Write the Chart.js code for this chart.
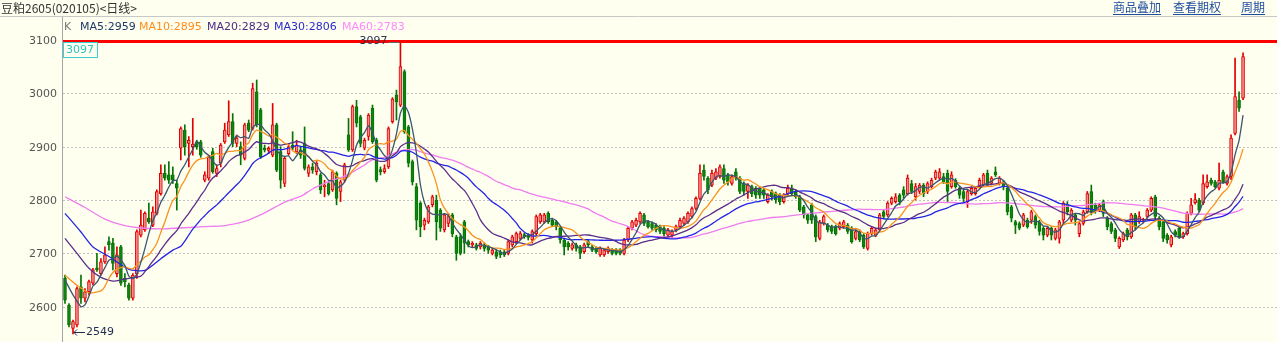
<!DOCTYPE html>
<html>
<head>
<meta charset="utf-8">
<script src="https://cdn.jsdelivr.net/npm/chart.js@4.4.1/dist/chart.umd.min.js"></script>
<style>
  html, body { margin: 0; padding: 0; background: #FFFFF0; }
  canvas { display: block; }
</style>
</head>
<body>
<canvas id="kline" width="1277" height="342"></canvas>
<script>
// daily candles (oldest first)
const opens = [
  2653,2603,2559,2566,2637,2616,2628,2644,2673,2662,
  2684,2722,2719,2662,2712,2653,2641,2616,2662,2734,
  2744,2766,2753,2775,2812,2850,2847,2847,2831,2897,
  2931,2906,2900,2909,2909,2837,2841,2891,2850,2869,
  2909,2922,2947,2906,2900,2878,2944,2934,3003,2969,
  2897,2893,2884,2941,2891,2831,2887,2903,2890,2894,
  2906,2850,2862,2853,2847,2825,2831,2819,2850,2816,
  2837,2922,2894,2975,2956,2897,2919,2972,2912,2857,
  2853,2862,2947,2997,2978,3041,2937,2872,2825,2794,
  2753,2759,2791,2800,2781,2744,2756,2772,2731,2731,
  2759,2722,2716,2716,2712,2716,2712,2700,2703,2703,
  2703,2700,2716,2722,2728,2735,2734,2725,2737,2759,
  2759,2775,2762,2759,2747,2725,2719,2709,2716,2712,
  2703,2722,2712,2709,2697,2697,2703,2706,2706,2706,
  2700,2725,2747,2753,2759,2772,2759,2756,2753,2750,
  2747,2734,2734,2744,2750,2756,2759,2769,2784,2803,
  2856,2841,2828,2841,2844,2859,2847,2831,2853,2841,
  2831,2816,2825,2822,2822,2819,2797,2816,2812,2809,
  2797,2812,2822,2816,2806,2787,2772,2791,2769,2728,
  2756,2753,2750,2750,2747,2750,2753,2747,2728,2741,
  2734,2709,2737,2734,2744,2778,2772,2794,2797,2809,
  2819,2812,2831,2806,2816,2828,2816,2825,2841,2841,
  2844,2850,2825,2837,2822,2816,2797,2812,2812,2825,
  2828,2850,2831,2853,2831,2834,2822,2787,2759,2756,
  2753,2762,2762,2769,2759,2747,2734,2747,2728,2728,
  2762,2791,2762,2772,2737,2756,2778,2816,2791,2781,
  2797,2766,2756,2744,2712,2725,2744,2731,2772,2759,
  2762,2769,2781,2806,2766,2759,2734,2716,2741,2747,
  2731,2737,2775,2795,2800,2794,2825,2837,2834,2822,
  2853,2831,2844,2925,2987,2991
];
const highs = [
  2659,2606,2575,2637,2659,2634,2650,2672,2700,2690,
  2712,2731,2728,2712,2715,2662,2644,2662,2744,2781,
  2778,2794,2787,2819,2866,2866,2872,2862,2837,2937,
  2941,2919,2953,2912,2912,2853,2884,2897,2866,2906,
  2944,2986,2962,2922,2909,2944,2950,3019,3025,2972,
  2903,2900,2981,2944,2900,2881,2906,2928,2912,2900,
  2937,2866,2869,2872,2850,2837,2834,2856,2853,2837,
  2869,2953,2978,2987,2959,2916,2962,2978,2916,2862,
  2866,2937,2992,3006,3097,3044,2940,2875,2831,2797,
  2766,2790,2809,2809,2784,2775,2775,2775,2734,2737,
  2762,2725,2722,2719,2722,2719,2715,2709,2706,2706,
  2706,2725,2734,2740,2741,2738,2737,2744,2772,2775,
  2775,2778,2766,2762,2750,2728,2722,2719,2719,2715,
  2719,2725,2715,2712,2712,2709,2712,2709,2709,2709,
  2728,2750,2762,2766,2778,2775,2762,2759,2756,2753,
  2750,2747,2744,2753,2766,2769,2778,2787,2806,2866,
  2866,2844,2856,2859,2866,2866,2850,2847,2859,2844,
  2834,2831,2828,2825,2825,2822,2812,2819,2815,2812,
  2812,2828,2828,2819,2809,2790,2775,2794,2772,2762,
  2772,2756,2753,2753,2759,2762,2756,2750,2744,2744,
  2737,2740,2750,2747,2775,2781,2797,2806,2812,2812,
  2825,2847,2837,2831,2831,2831,2834,2841,2856,2859,
  2850,2856,2853,2840,2825,2819,2819,2825,2825,2841,
  2850,2856,2844,2862,2844,2837,2825,2790,2762,2759,
  2775,2766,2781,2772,2762,2750,2750,2750,2747,2762,
  2797,2797,2784,2775,2759,2781,2816,2828,2794,2794,
  2800,2769,2759,2747,2731,2740,2747,2775,2775,2778,
  2766,2784,2806,2809,2769,2762,2737,2734,2744,2750,
  2740,2778,2803,2812,2803,2847,2847,2841,2837,2869,
  2856,2847,2922,3066,3003,3076
];
const lows = [
  2606,2562,2549,2562,2606,2609,2622,2641,2666,2659,
  2681,2706,2669,2656,2640,2637,2612,2612,2653,2731,
  2741,2756,2750,2772,2809,2837,2831,2831,2781,2875,
  2884,2862,2884,2895,2880,2834,2837,2850,2844,2862,
  2906,2919,2900,2900,2866,2875,2928,2931,2937,2878,
  2890,2888,2881,2853,2822,2825,2884,2894,2887,2878,
  2856,2844,2850,2847,2812,2806,2809,2816,2791,2797,
  2834,2891,2891,2937,2900,2894,2912,2906,2834,2847,
  2850,2859,2944,2950,2975,2925,2862,2828,2744,2731,
  2744,2756,2787,2725,2741,2740,2750,2731,2687,2697,
  2700,2712,2712,2706,2708,2704,2700,2697,2690,2692,
  2694,2697,2712,2718,2725,2728,2725,2719,2734,2756,
  2756,2756,2750,2744,2719,2697,2706,2706,2704,2690,
  2700,2712,2703,2700,2694,2694,2700,2697,2697,2697,
  2697,2722,2744,2750,2756,2752,2747,2744,2740,2737,
  2731,2728,2730,2740,2747,2753,2756,2766,2781,2800,
  2837,2812,2825,2838,2841,2831,2828,2828,2837,2812,
  2809,2803,2806,2803,2803,2803,2794,2800,2794,2791,
  2794,2809,2809,2803,2778,2766,2756,2756,2722,2725,
  2753,2740,2737,2734,2744,2747,2737,2719,2725,2722,
  2709,2706,2734,2731,2741,2766,2769,2791,2794,2791,
  2803,2809,2812,2800,2812,2806,2812,2822,2838,2838,
  2831,2797,2822,2822,2803,2797,2786,2809,2809,2822,
  2825,2825,2828,2844,2828,2819,2772,2759,2737,2744,
  2750,2747,2756,2747,2734,2725,2731,2725,2725,2719,
  2756,2772,2759,2753,2731,2753,2775,2772,2775,2778,
  2769,2744,2737,2722,2709,2722,2725,2728,2744,2756,
  2758,2766,2778,2762,2744,2722,2719,2712,2731,2728,
  2728,2734,2772,2792,2778,2791,2822,2828,2822,2819,
  2831,2828,2838,2922,2966,2988
];
const closes = [
  2612,2566,2572,2634,2616,2628,2647,2669,2669,2684,
  2697,2716,2681,2697,2644,2647,2616,2659,2741,2753,
  2775,2759,2778,2816,2850,2841,2837,2837,2822,2934,
  2900,2912,2905,2900,2884,2847,2881,2853,2859,2903,
  2931,2947,2906,2916,2884,2941,2931,3009,2941,2881,
  2894,2897,2941,2856,2837,2878,2900,2897,2903,2884,
  2859,2862,2856,2869,2819,2828,2812,2853,2803,2834,
  2866,2894,2975,2944,2906,2912,2959,2909,2837,2853,
  2859,2934,2989,2984,3050,2928,2869,2834,2762,2750,
  2762,2787,2806,2759,2747,2772,2769,2737,2700,2700,
  2719,2716,2719,2709,2719,2709,2706,2706,2694,2697,
  2697,2722,2731,2737,2737,2731,2730,2741,2769,2772,
  2772,2759,2753,2750,2725,2712,2712,2716,2709,2700,
  2716,2716,2706,2703,2709,2706,2709,2700,2700,2700,
  2725,2747,2759,2762,2775,2756,2750,2747,2744,2741,
  2737,2744,2741,2750,2762,2766,2775,2784,2803,2850,
  2844,2819,2850,2853,2862,2837,2834,2844,2841,2816,
  2816,2828,2812,2809,2809,2809,2809,2806,2800,2797,
  2809,2822,2812,2806,2781,2772,2762,2762,2731,2759,
  2769,2744,2741,2737,2756,2759,2741,2722,2741,2725,
  2712,2737,2747,2744,2772,2769,2794,2803,2806,2797,
  2809,2841,2816,2825,2828,2812,2831,2837,2853,2853,
  2834,2816,2847,2825,2809,2803,2816,2822,2822,2837,
  2847,2828,2841,2847,2841,2825,2778,2766,2753,2747,
  2772,2750,2778,2753,2741,2734,2747,2734,2744,2759,
  2794,2778,2781,2762,2756,2778,2812,2778,2781,2791,
  2775,2750,2741,2728,2728,2737,2731,2772,2750,2769,
  2762,2781,2803,2769,2750,2728,2725,2731,2734,2731,
  2737,2775,2791,2801,2781,2831,2834,2831,2825,2837,
  2834,2844,2916,2994,2972,3069
];

// moving-average values for the first days,
// before each average has a full window of closes ([day index, value])
const ma5Head = [[0, 2650], [2, 2622]];
const ma10Head = [[0, 2659], [3, 2640], [6, 2626]];
const ma20Head = [[0, 2728], [3, 2700], [6, 2672], [9, 2655], [12, 2648], [15, 2652]];
const ma30Head = [[0, 2775], [4, 2740], [7, 2712], [11, 2694], [16, 2670], [20, 2668], [24, 2690], [27, 2706]];
const ma60Head = [[0, 2806], [5, 2786], [10, 2764], [15, 2752], [20, 2747], [25, 2746], [30, 2748], [35, 2750], [40, 2752], [45, 2760], [50, 2776], [55, 2796]];

const legendNames = ["MA5", "MA10", "MA20", "MA30", "MA60"];
const legendValues = [2959, 2895, 2829, 2806, 2783];
const yTicks = [2600, 2700, 2800, 2900, 3000, 3100];
const emptySlots = 8; // room left at the right edge

const maColors = ["#3B5570", "#F7931E", "#5A2E8A", "#2424E6", "#F07CF0"];
const legendColors = ["#1E3A66", "#FF8C1A", "#4B2A86", "#2B2BCC", "#FF88FF"];

function movingAvg(period, head) {
  const out = closes.map(() => null);
  head.forEach(([i, v]) => { out[i] = v; });
  for (let i = period - 1; i < closes.length; i++) {
    let s = 0;
    for (let k = i - period + 1; k <= i; k++) s += closes[k];
    out[i] = s / period;
  }
  return out;
}

const days = [];
for (let i = 0; i < closes.length + emptySlots; i++) days.push(String(i + 1));

const isUp = closes.map((c, i) => c >= opens[i]);
const bodies = opens.map((o, i) => [o, closes[i]]);
const wicks = lows.map((l, i) => [l, highs[i]]);

const maxHigh = Math.max(...highs);
const maxIdx = highs.indexOf(maxHigh);
const minLow = Math.min(...lows);
const minIdx = lows.indexOf(minLow);

const numFont = "11px 'DejaVu Sans'";

const overlay = {
  id: "overlay",
  beforeDraw(chart) {
    const ctx = chart.ctx;
    ctx.save();
    ctx.fillStyle = "#FFFFF0";
    ctx.fillRect(0, 0, chart.width, chart.height);
    ctx.restore();
  },
  beforeDatasetsDraw(chart) {
    const ctx = chart.ctx;
    const a = chart.chartArea;
    const y = chart.scales.y;
    ctx.save();
    ctx.lineWidth = 1;
    ctx.strokeStyle = "#C2C2C2";
    ctx.setLineDash([2, 2]);
    yTicks.forEach(v => {
      const py = Math.round(y.getPixelForValue(v)) + 0.5;
      ctx.beginPath();
      ctx.moveTo(a.left, py);
      ctx.lineTo(a.right, py);
      ctx.stroke();
    });
    ctx.setLineDash([]);
    ctx.strokeStyle = "#A6A6A6";
    ctx.beginPath();
    ctx.moveTo(a.left - 0.5, 17);
    ctx.lineTo(a.left - 0.5, a.bottom);
    ctx.stroke();

    // y tick labels
    ctx.font = numFont;
    ctx.fillStyle = "#555555";
    ctx.textAlign = "right";
    ctx.textBaseline = "middle";
    yTicks.forEach(v => {
      ctx.fillText(String(v), a.left - 6, y.getPixelForValue(v) + 1);
    });
    ctx.restore();
  },
  afterDatasetsDraw(chart) {
    const ctx = chart.ctx;
    const a = chart.chartArea;
    const x = chart.scales.x;
    const y = chart.scales.y;
    ctx.save();

    // highest price line
    const hy = y.getPixelForValue(maxHigh);
    ctx.strokeStyle = "#FF0000";
    ctx.lineWidth = 3;
    ctx.beginPath();
    ctx.moveTo(a.left, hy);
    ctx.lineTo(chart.width, hy);
    ctx.stroke();

    ctx.font = numFont;
    ctx.textBaseline = "middle";

    // boxed value at the left
    ctx.fillStyle = "#FFFFF0";
    ctx.fillRect(a.left + 1, 43, 34, 14);
    ctx.strokeStyle = "#3CCFCF";
    ctx.lineWidth = 1;
    ctx.strokeRect(a.left + 0.5, 42.5, 34, 15);
    ctx.fillStyle = "#2EC4C4";
    ctx.textAlign = "left";
    ctx.fillText(String(maxHigh), a.left + 3, 50.5);

    // marker at the highest candle
    const hx = x.getPixelForValue(maxIdx);
    ctx.fillStyle = "#2A3550";
    ctx.textAlign = "right";
    ctx.fillText(String(maxHigh), hx - 13, hy);
    ctx.strokeStyle = "#666666";
    ctx.beginPath();
    ctx.moveTo(hx - 12, Math.round(hy) + 0.5);
    ctx.lineTo(hx - 1, Math.round(hy) + 0.5);
    ctx.stroke();

    // marker at the lowest candle
    const lx = x.getPixelForValue(minIdx) + 1;
    const ly = Math.round(y.getPixelForValue(minLow)) - 1.5;
    ctx.strokeStyle = "#1C2C4C";
    ctx.beginPath();
    ctx.moveTo(lx, ly);
    ctx.lineTo(lx + 11, ly);
    ctx.moveTo(lx, ly);
    ctx.lineTo(lx + 3, ly - 3);
    ctx.moveTo(lx, ly);
    ctx.lineTo(lx + 3, ly + 3);
    ctx.stroke();
    ctx.fillStyle = "#1C2C4C";
    ctx.textAlign = "left";
    ctx.fillText(String(minLow), lx + 12, ly);
    ctx.restore();
  },
  afterDraw(chart) {
    const ctx = chart.ctx;
    ctx.save();
    ctx.textBaseline = "middle";

    // title row
    ctx.font = "12px 'Noto Sans CJK SC'";
    ctx.fillStyle = "#333333";
    ctx.textAlign = "left";
    ctx.fillText("豆粕2605(020105)<日线>", 1, 8);

    const links = [["商品叠加", 1113], ["查看期权", 1173], ["周期", 1241]];
    ctx.fillStyle = "#1F4E9E";
    ctx.strokeStyle = "#1F4E9E";
    ctx.lineWidth = 1;
    links.forEach(([t, lx]) => {
      ctx.fillText(t, lx, 7);
      const w = ctx.measureText(t).width;
      ctx.beginPath();
      ctx.moveTo(lx, 14.5);
      ctx.lineTo(lx + w, 14.5);
      ctx.stroke();
    });

    ctx.strokeStyle = "#C8C8C8";
    ctx.beginPath();
    ctx.moveTo(0, 16.5);
    ctx.lineTo(chart.width, 16.5);
    ctx.stroke();

    // legend row
    ctx.font = numFont;
    const legendX = [80, 139, 207, 274, 342];
    ctx.fillStyle = "#777777";
    ctx.fillText("K", 64, 27);
    legendNames.forEach((n, i) => {
      ctx.fillStyle = legendColors[i];
      ctx.fillText(n + ":" + legendValues[i], legendX[i], 27);
    });
    ctx.restore();
  }
};

const maPeriods = [5, 10, 20, 30, 60];
const maHeads = [ma5Head, ma10Head, ma20Head, ma30Head, ma60Head];
const lineSets = maPeriods.map((p, i) => ({
  type: "line",
  label: legendNames[i],
  data: movingAvg(p, maHeads[i]),
  borderColor: maColors[i],
  borderWidth: 1.3,
  pointRadius: 0,
  spanGaps: true,
  tension: 0.2,
  order: 0
}));

new Chart(document.getElementById("kline").getContext("2d"), {
  type: "bar",
  data: {
    labels: days,
    datasets: [
      ...lineSets,
      {
        label: "body",
        data: bodies,
        backgroundColor: isUp.map(u => u ? "#F28C8C" : "#0F850F"),
        borderColor: isUp.map(u => u ? "#E00000" : "#067306"),
        borderWidth: 1,
        borderSkipped: false,
        barThickness: 3,
        minBarLength: 1,
        grouped: false,
        order: 1
      },
      {
        label: "wick",
        data: wicks,
        backgroundColor: isUp.map(u => u ? "#E00000" : "#067306"),
        borderWidth: 0,
        barThickness: 1,
        grouped: false,
        order: 2
      }
    ]
  },
  options: {
    responsive: false,
    animation: false,
    devicePixelRatio: 1,
    layout: { padding: { top: 17, right: 0, bottom: 0, left: 0 } },
    plugins: { legend: { display: false }, tooltip: { enabled: false } },
    scales: {
      x: { display: false, offset: true, grid: { display: false } },
      y: {
        min: 2533.75,
        max: 3143.1,
        afterFit: s => { s.width = 63; },
        afterBuildTicks: s => { s.ticks = yTicks.map(v => ({ value: v })); },
        ticks: { display: false },
        grid: { display: false, drawTicks: false },
        border: { display: false }
      }
    }
  },
  plugins: [overlay]
});
</script>
</body>
</html>
